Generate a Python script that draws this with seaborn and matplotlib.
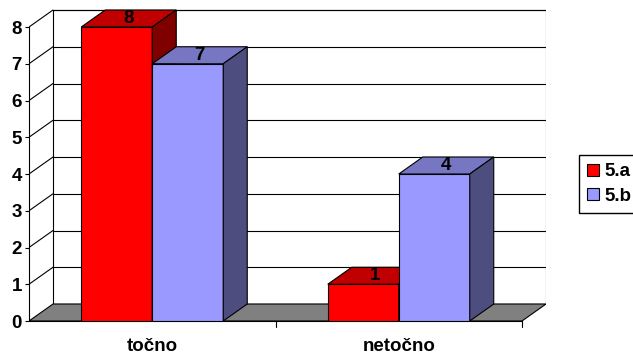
import pandas as pd
import seaborn as sns
import matplotlib.pyplot as plt
from matplotlib.patches import Polygon, Patch

# podaci
kategorije = ["točno", "netočno"]
razredi = ["5.a", "5.b"]
vrijednosti_5a = [8, 1]
vrijednosti_5b = [7, 4]

boje_prednje = ["#FF0000", "#9999FF"]
boje_gore = ["#C00000", "#7676C2"]
boje_strana = ["#800000", "#4D4D80"]

df = pd.DataFrame({
    "kategorija": kategorije * 2,
    "razred": [razredi[0]] * 2 + [razredi[1]] * 2,
    "broj": vrijednosti_5a + vrijednosti_5b,
})

sns.set_style("white")
plt.rcParams["font.family"] = ["Liberation Sans", "DejaVu Sans"]
plt.rcParams["font.weight"] = "bold"
plt.rcParams["text.color"] = "black"
plt.rcParams["xtick.color"] = "black"
plt.rcParams["ytick.color"] = "black"

FS = 13.5

W, H = 633, 359
fig = plt.figure(figsize=(W / 100, H / 100), dpi=100)
# os: prednja ravnina od x=29 do 522 px, y=0 na 321 px
ax = fig.add_axes([29 / W, 1 - 321 / H, (546 - 29) / W, (321 - 7) / H])

sns.barplot(data=df, x="kategorija", y="broj", hue="razred",
            palette=boje_prednje, width=0.576, edgecolor="black",
            linewidth=0.8, saturation=1, ax=ax, legend=False)

px_x = 246.5          # piksela po jedinici x
px_y = 36.75          # piksela po jedinici y
dx = 24 / px_x
dy = 17 / px_y
x0, x1 = -0.5, 1.5
ymax = 8

ax.set_xlim(x0, x1 + dx)
ax.set_ylim(0, (321 - 7) / px_y)

# zadnji zid
ax.add_patch(Polygon([(x0 + dx, dy), (x1 + dx, dy), (x1 + dx, ymax + dy),
                      (x0 + dx, ymax + dy)], closed=True, facecolor="white",
                     edgecolor="black", linewidth=0.8, zorder=0.5))
for v in range(1, ymax + 1):
    ax.plot([x0 + dx, x1 + dx], [v + dy, v + dy], color="black", lw=0.8, zorder=0.6)
    ax.plot([x0, x0 + dx], [v, v + dy], color="black", lw=0.8, zorder=0.6)
# pod
ax.add_patch(Polygon([(x0, 0), (x0 + dx, dy), (x1 + dx, dy), (x1, 0)], closed=True,
                     facecolor="#808080", edgecolor="black", linewidth=0.8, zorder=0.7))

# 3D stranice stupaca
for i, bar in enumerate(ax.patches[:4]):
    h_idx = i // 2
    z = 3 + h_idx
    bx0 = bar.get_x()
    bx1 = bx0 + bar.get_width()
    h = bar.get_height()
    bar.set_zorder(z)
    ax.add_patch(Polygon([(bx0, h), (bx1, h), (bx1 + dx, h + dy), (bx0 + dx, h + dy)],
                         closed=True, facecolor=boje_gore[h_idx], edgecolor="black",
                         linewidth=0.8, zorder=z))
    ax.add_patch(Polygon([(bx1, 0), (bx1 + dx, dy), (bx1 + dx, h + dy), (bx1, h)],
                         closed=True, facecolor=boje_strana[h_idx], edgecolor="black",
                         linewidth=0.8, zorder=z))
    ax.text(bx0 + bar.get_width() / 2 + dx / 2, h + dy / 2 + 0.05, f"{h:g}",
            ha="center", va="center_baseline", fontsize=FS, fontweight="bold",
            color="black", zorder=10)

# osi
for s in ax.spines.values():
    s.set_visible(False)
ax.plot([x0, x0], [0, ymax], color="black", lw=0.8, clip_on=False, zorder=1)
ax.plot([x0, x1], [0, 0], color="black", lw=0.8, clip_on=False, zorder=1)
ax.set_yticks(range(0, ymax + 1))
ax.set_yticklabels([str(v) for v in range(0, ymax + 1)], fontsize=FS, fontweight="bold")
ax.tick_params(axis="y", length=3, width=0.8, pad=2, left=True)
ax.set_xticks([0, 1])
ax.set_xticklabels(kategorije, fontsize=FS, fontweight="bold")
ax.tick_params(axis="x", length=0, pad=12)
for xt in [0.5, 1.5]:
    ax.plot([xt, xt], [0, -0.15], color="black", lw=0.8, clip_on=False)
ax.set_xlabel("")
ax.set_ylabel("")
ax.grid(False)

# legenda
ruke = [Patch(facecolor=boje_prednje[k], edgecolor="black", linewidth=0.8) for k in range(2)]
fig.legend(ruke, razredi, loc="upper left", bbox_to_anchor=(579 / W, 1 - 155 / H),
           frameon=True, fancybox=False, edgecolor="black", framealpha=1,
           handlelength=0.6, handleheight=0.6, handletextpad=0.3,
           borderpad=0.45, labelspacing=0.4, borderaxespad=0,
           prop={"size": FS, "weight": "bold"})

fig.savefig("out.png", dpi=100)
